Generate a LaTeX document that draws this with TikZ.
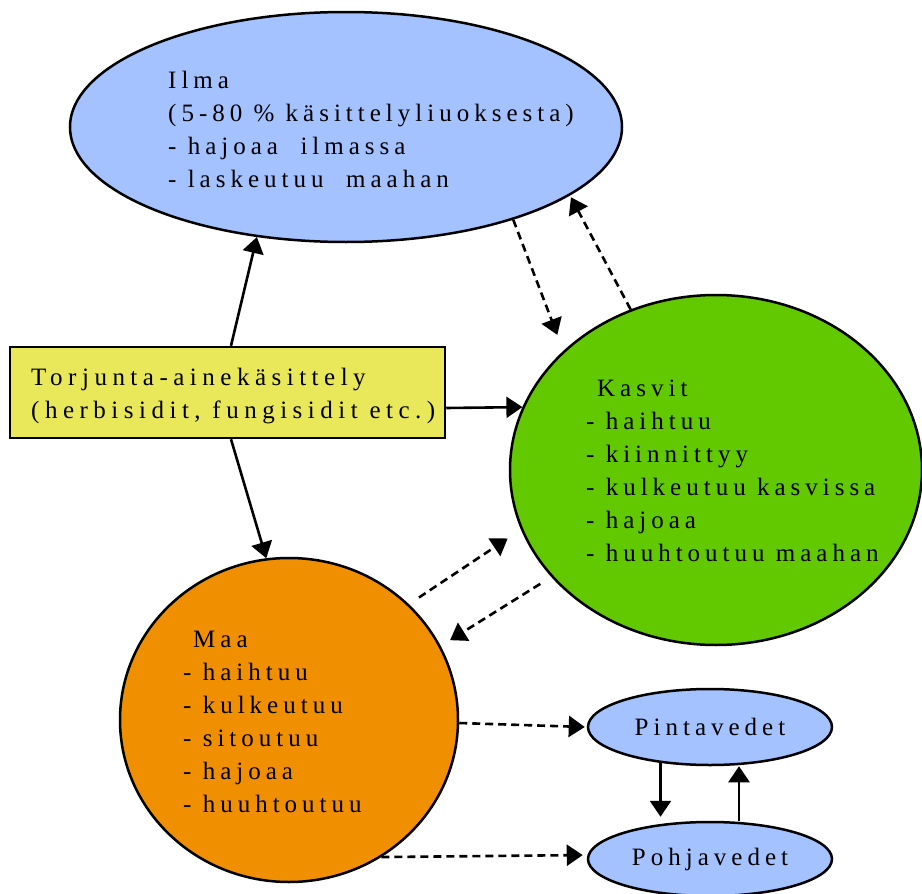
\documentclass[tikz,border=0pt]{standalone}
\usepackage{fontspec}
\setmainfont{Liberation Serif}[LetterSpace=20]
\newfontfamily\boxfont{Liberation Serif}[LetterSpace=22]
\usetikzlibrary{shapes.geometric,arrows.meta}
\definecolor{ilmablue}{RGB}{164,194,255}
\definecolor{kasgreen}{RGB}{98,201,0}
\definecolor{maaorange}{RGB}{240,144,0}
\definecolor{boxyellow}{RGB}{232,232,90}
\tikzset{
  blob/.style={ellipse,draw=black,line width=2.5pt,inner sep=0pt},
  lbl/.style={align=left,inner sep=0pt,anchor=west,font=\fontsize{25}{33}\selectfont},
  arr/.style={line width=2.6pt,-{Triangle[length=16pt,width=21pt]}},
  darr/.style={arr,dash pattern=on 8pt off 5pt}
}
\begin{document}
\begin{tikzpicture}[x=1pt,y=-1pt]
\useasboundingbox (0,0) rectangle (922,894);
\node[blob,fill=ilmablue,minimum width=552pt,minimum height=230pt] (ilma) at (346,127) {};
\node[blob,fill=kasgreen,minimum width=412pt,minimum height=350pt] (kasvit) at (716,470) {};
\node[blob,fill=maaorange,minimum width=338pt,minimum height=324pt] (maa) at (289,720) {};
\node[blob,fill=ilmablue,minimum width=244pt,minimum height=76pt] (pint) at (710,727) {};
\node[blob,fill=ilmablue,minimum width=244pt,minimum height=74pt] (pohj) at (710,859) {};
\node[draw=black,line width=2.5pt,fill=boxyellow,minimum width=435pt,minimum height=91pt,inner sep=0pt] (box) at (227.5,392.5) {};

\node[lbl] (ilmat) at (168,129) {Ilma\\(5-80 \% käsittelyliuoksesta)\\- hajoaa \ ilmassa\\- laskeutuu \ maahan};
\node[lbl,font=\fontsize{25}{33}\boxfont] (boxt) at (31,396) {Torjunta-ainekäsittely\\(herbisidit, fungisidit etc.)};
\node[lbl] (kasvitt) at (586,471) {\hspace{11pt}Kasvit\\- haihtuu\\- kiinnittyy\\- kulkeutuu kasvissa\\- hajoaa\\- huuhtoutuu maahan};
\node[lbl] (maat) at (183,722) {\hspace{10pt}Maa\\- haihtuu\\- kulkeutuu\\- sitoutuu\\- hajoaa\\- huuhtoutuu};
\node[inner sep=0pt,font=\fontsize{25}{33}\selectfont] (pintt) at (pint) {Pintavedet};
\node[inner sep=0pt,font=\fontsize{25}{33}\selectfont] (pohjt) at (pohj) {Pohjavedet};

\draw[arr] ([xshift=3.5pt]box.north) -- (ilma.231);
\draw[arr] ([xshift=3.5pt]box.south) -- (maa.98.5);
\draw[arr] ([yshift=-15.5pt]box.east) -- (kasvit.162.2);
\draw[darr,shorten >=17pt] (ilma.331) -- (kasvit.142);
\draw[darr,shorten >=2pt] (kasvit.118) -- (ilma.343);
\draw[darr,shorten <=12pt,shorten >=16pt] (maa.44.7) -- (kasvit.197.1);
\draw[darr,shorten <=13pt,shorten >=11pt] (kasvit.213.3) -- (maa.26);
\draw[darr] ([yshift=-3pt]maa.east) -- ([xshift=-2pt]pint.west);
\draw[darr,shorten >=4pt] (maa.304.7) -- ([yshift=4pt]pohj.west);
\draw[arr,shorten >=4pt] (pint.216) -- (pint.216 |- pohj.north);
\draw[arr] ([xshift=29pt]pohj.north) -- ([xshift=29pt]pint.south);
\end{tikzpicture}
\end{document}
